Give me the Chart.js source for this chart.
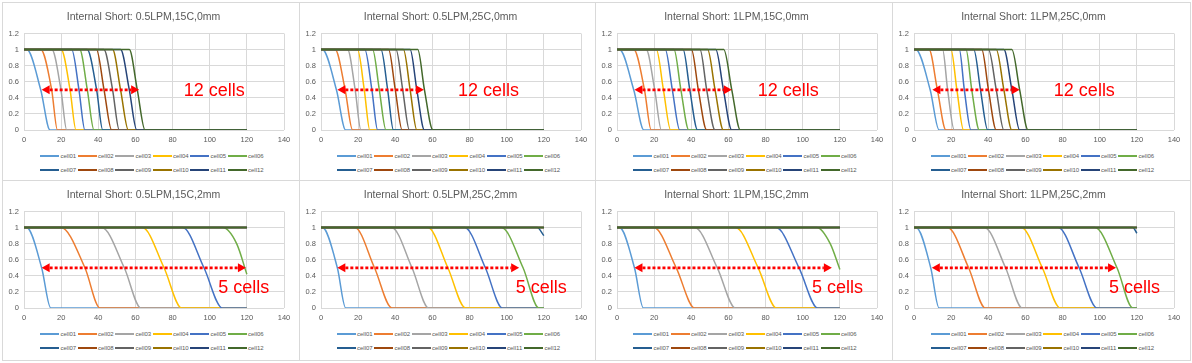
<!DOCTYPE html>
<html>
<head>
<meta charset="utf-8">
<script src="https://cdn.jsdelivr.net/npm/chart.js@4.4.1/dist/chart.umd.min.js"></script>
<style>
  html, body { margin: 0; background: #fff; }
  body { width: 1192px; height: 363px; position: relative; overflow: hidden; font-family: "Liberation Sans", Arial, sans-serif; }
  .panel { position: absolute; box-sizing: border-box; border: 1px solid #d9d9d9; background: #fff; }
  .panel canvas { position: absolute; left: 0; top: 0; }
  .legend { position: absolute; left: 0; right: 0; top: 146px; }
  .legend .row { display: flex; justify-content: center; align-items: center; height: 14px; padding-left: 3px; }
  .legend .item { width: 37.5px; flex: none; display: flex; align-items: center; overflow: visible; }
  .legend .swatch { width: 19px; height: 2px; margin-right: 1.5px; flex: none; }
  .legend .text { font-size: 6px; color: #595959; white-space: nowrap; }
</style>
</head>
<body>
<script>
const cellNames = ['cell01', 'cell02', 'cell03', 'cell04', 'cell05', 'cell06',
                   'cell07', 'cell08', 'cell09', 'cell10', 'cell11', 'cell12'];
const cellColors = ['#5B9BD5', '#ED7D31', '#A5A5A5', '#FFC000', '#4472C4', '#70AD47',
                    '#255E91', '#9E480E', '#636363', '#997300', '#264478', '#43682B'];

const panelTitles = [
    'Internal Short: 0.5LPM,15C,0mm', 'Internal Short: 0.5LPM,25C,0mm',
    'Internal Short: 1LPM,15C,0mm', 'Internal Short: 1LPM,25C,0mm',
    'Internal Short: 0.5LPM,15C,2mm', 'Internal Short: 0.5LPM,25C,2mm',
    'Internal Short: 1LPM,15C,2mm', 'Internal Short: 1LPM,25C,2mm'
];

// time range of the runs, and the levels each curve goes through
const timeFirst = 0;
const timeLast = 120;
const levelFull = 1;
const levelHalf = 0.5;
const levelEmpty = 0;

// x where each cell leaves 1, crosses 0.5 and reaches 0 (null = still at 1 at the end)
const aStart = [1.5, 9, 15, 20, 25.7, 30, 34, 39, 43, 47.7, 52, 56.7];
const aMid   = [9, 14.9, 19.9, 24.8, 29.6, 34.1, 39.1, 43.1, 47.7, 52, 56.7, 61];
const aEnd   = [14, 18, 23, 28, 32.8, 37.7, 42.4, 47.2, 51.3, 56.2, 60.7, 65.2];

const bStart = [0.7, 7.6, 14.3, 19.7, 23.6, 27.8, 32.3, 36.4, 40.4, 44.4, 48, 52.1];
const bMid   = [8.3, 13, 18.4, 23.3, 27.4, 31.4, 35.9, 40, 44, 48, 51.6, 55.7];
const bEnd   = [13.3, 17, 21.5, 26.3, 30.5, 35, 39, 43.7, 47.6, 51.6, 55.7, 60.3];

const cStart = [1.3, 9, 15.7, 21.2, 26, 30.7, 35.6, 40.1, 44.7, 48.8, 53.2, 57.5];
const cMid   = [9, 14.8, 20.3, 25, 29.8, 34.4, 39.2, 43.8, 48.3, 52.8, 57.3, 61.8];
const cEnd   = [14.5, 18.4, 23.9, 28.9, 33.8, 38.7, 43.4, 48.3, 52.8, 57.3, 61.8, 66.4];

const dStart = [0.9, 8.1, 15.4, 19.9, 24.4, 28, 32.2, 36.5, 40.1, 44.3, 48.4, 52.7];
const dMid   = [8.7, 12.6, 18.1, 23.1, 27.1, 31.1, 35.8, 40.1, 44.3, 48.4, 52.7, 56.9];
const dEnd   = [13.5, 17.2, 21.7, 26.7, 30.7, 35.2, 39.7, 44.3, 48.4, 52.7, 56.9, 61.4];

const eStart = [1.4, 19.9, 41.8, 63.7, 85.4, 107, null, null, null, null, null, null];
const eMid   = [9.5, 32.8, 54, 75.4, 96.9, null, null, null, null, null, null, null];
const eEnd   = [14.4, 40.9, 63, 84.9, 106.8, null, null, null, null, null, null, null];

const fStart = [0.7, 18.2, 38, 57.5, 77.3, 97.1, 116.4, null, null, null, null, null];
const fMid   = [8.8, 28.8, 49, 68.3, 88.5, 108.8, null, null, null, null, null, null];
const fEnd   = [13.3, 38.2, 58, 77.8, 97.7, 117.3, null, null, null, null, null, null];

const gStart = [1.3, 19.8, 41.8, 63.8, 85.6, 107.6, null, null, null, null, null, null];
const gMid   = [9.4, 31.9, 54, 76, 98, null, null, null, null, null, null, null];
const gEnd   = [14.2, 41.8, 63.8, 85.9, 108.1, null, null, null, null, null, null, null];

const hStart = [1.1, 18, 37.9, 57.7, 77.6, 97.4, 117.8, null, null, null, null, null];
const hMid   = [9, 29.4, 49.3, 69.1, 88.9, 109.3, null, null, null, null, null, null];
const hEnd   = [13.5, 38.4, 58.3, 78.7, 98.5, 117.8, null, null, null, null, null, null];

// cells still dropping when the run stops at 120: [x, y] points after they leave 1
const eTail = [[114.5, 0.8], [120, 0.42]];
const fTail = [[120, 0.9]];
const gTail = [[114.8, 0.8], [120, 0.48]];
const hTail = [[120, 0.93]];

const panelStart = [aStart, bStart, cStart, dStart, eStart, fStart, gStart, hStart];
const panelMid = [aMid, bMid, cMid, dMid, eMid, fMid, gMid, hMid];
const panelEnd = [aEnd, bEnd, cEnd, dEnd, eEnd, fEnd, gEnd, hEnd];
const panelTail = [null, null, null, null, { cell: 5, pts: eTail }, { cell: 6, pts: fTail }, { cell: 5, pts: gTail }, { cell: 6, pts: hTail }];

// red span annotations
const spanText = ['12 cells', '12 cells', '12 cells', '12 cells', '5 cells', '5 cells', '5 cells', '5 cells'];
const spanFrom = [9.5, 8.8, 9.4, 9.9, 9.5, 8.8, 9.4, 9.6];
const spanTo = [62, 55.4, 61.8, 56.9, 119.5, 106.7, 115.7, 108.8];
const spanTextX = [86, 73.8, 75.8, 75.3, 104.6, 104.9, 105, 105];
const spanTextY = [0.42, 0.42, 0.42, 0.42, 0.19, 0.19, 0.19, 0.19];

Chart.defaults.font.family = '"Liberation Sans", Arial, sans-serif';
Chart.defaults.color = '#595959';

function cellPoints(start, mid, end, tail) {
    if (start == null) return [{ x: timeFirst, y: levelFull }, { x: timeLast, y: levelFull }];
    const pts = [{ x: timeFirst, y: levelFull }, { x: start, y: levelFull }];
    if (tail) {
        tail.forEach(([x, y]) => pts.push({ x, y }));
    } else {
        pts.push({ x: mid, y: levelHalf }, { x: end, y: levelEmpty }, { x: timeLast, y: levelEmpty });
    }
    return pts;
}

const spanArrow = {
    id: 'spanArrow',
    afterDatasetsDraw(chart, args, opts) {
        const { ctx, scales: { x, y } } = chart;
        const x1 = x.getPixelForValue(opts.from);
        const x2 = x.getPixelForValue(opts.to);
        const yy = y.getPixelForValue(0.5);
        const head = 8, half = 4.5;
        ctx.save();
        ctx.strokeStyle = '#FF0000';
        ctx.fillStyle = '#FF0000';
        ctx.lineWidth = 2.7;
        ctx.setLineDash([3, 2]);
        ctx.beginPath();
        ctx.moveTo(x1 + head, yy);
        ctx.lineTo(x2 - head, yy);
        ctx.stroke();
        ctx.setLineDash([]);
        ctx.beginPath();
        ctx.moveTo(x1, yy);
        ctx.lineTo(x1 + head, yy - half);
        ctx.lineTo(x1 + head, yy + half);
        ctx.closePath();
        ctx.moveTo(x2, yy);
        ctx.lineTo(x2 - head, yy - half);
        ctx.lineTo(x2 - head, yy + half);
        ctx.closePath();
        ctx.fill();
        ctx.font = '18px "Liberation Sans", Arial, sans-serif';
        ctx.textBaseline = 'alphabetic';
        ctx.textAlign = 'left';
        ctx.fillText(opts.text, x.getPixelForValue(opts.textX), y.getPixelForValue(opts.textY));
        ctx.restore();
    }
};

// legend as html below the canvas, two rows of six like Excel
const htmlLegend = {
    id: 'htmlLegend',
    afterUpdate(chart) {
        const box = chart.canvas.parentNode.querySelector('.legend');
        box.innerHTML = '';
        const items = chart.options.plugins.legend.labels.generateLabels(chart)
            .sort((a, b) => a.datasetIndex - b.datasetIndex);
        let row = null;
        items.forEach((item, i) => {
            if (i % 6 === 0) {
                row = document.createElement('div');
                row.className = 'row';
                box.appendChild(row);
            }
            const el = document.createElement('div');
            el.className = 'item';
            const sw = document.createElement('span');
            sw.className = 'swatch';
            sw.style.background = item.strokeStyle;
            const tx = document.createElement('span');
            tx.className = 'text';
            tx.textContent = item.text;
            el.appendChild(sw);
            el.appendChild(tx);
            row.appendChild(el);
        });
    }
};

const colLeft = [2, 299, 595, 892, 1190];
const rowTop = [2, 180, 360];

panelTitles.forEach((title, p) => {
    const col = p % 4, rowIdx = Math.floor(p / 4);
    const panel = document.createElement('div');
    panel.className = 'panel';
    const w = colLeft[col + 1] - colLeft[col] + 1;
    const h = rowTop[rowIdx + 1] - rowTop[rowIdx] + 1;
    panel.style.left = colLeft[col] + 'px';
    panel.style.top = rowTop[rowIdx] + 'px';
    panel.style.width = w + 'px';
    panel.style.height = h + 'px';
    const innerW = w - 2;
    const canvas = document.createElement('canvas');
    canvas.width = innerW;
    canvas.height = 146;
    const legend = document.createElement('div');
    legend.className = 'legend';
    panel.appendChild(canvas);
    panel.appendChild(legend);
    document.body.appendChild(panel);

    const tail = panelTail[p];
    new Chart(canvas.getContext('2d'), {
        type: 'line',
        data: {
            datasets: cellNames.map((name, i) => ({
                label: name,
                data: cellPoints(panelStart[p][i], panelMid[p][i], panelEnd[p][i],
                                 tail && tail.cell === i ? tail.pts : null),
                borderColor: cellColors[i],
                backgroundColor: cellColors[i],
                borderWidth: 1.5,
                pointRadius: 0,
                fill: false,
                cubicInterpolationMode: 'monotone',
                order: cellNames.length - i
            }))
        },
        options: {
            responsive: false,
            animation: false,
            layout: { padding: { left: 0, right: innerW - 281, top: 0, bottom: 0 } },
            plugins: {
                legend: { display: false },
                tooltip: { enabled: false },
                title: {
                    display: true,
                    text: title,
                    color: '#595959',
                    font: { size: 10.5, weight: 'normal', lineHeight: 1.2 },
                    padding: { top: 7.4, bottom: 10.5 }
                },
                spanArrow: {
                    from: spanFrom[p], to: spanTo[p],
                    text: spanText[p], textX: spanTextX[p], textY: spanTextY[p]
                }
            },
            scales: {
                x: {
                    type: 'linear',
                    min: 0,
                    max: 140,
                    ticks: { stepSize: 20, color: '#595959', font: { size: 7.5 }, padding: 5, maxRotation: 0 },
                    grid: { color: '#d9d9d9', lineWidth: 1, drawTicks: false },
                    border: { display: false },
                    afterFit: s => { s.height = 19; }
                },
                y: {
                    min: 0,
                    max: 1.2,
                    ticks: {
                        stepSize: 0.2, color: '#595959', font: { size: 7.5 }, padding: 5,
                        callback: v => String(Math.round(v * 10) / 10)
                    },
                    grid: { color: '#d9d9d9', lineWidth: 1, drawTicks: false },
                    border: { display: false },
                    afterFit: s => { s.width = 21; }
                }
            }
        },
        plugins: [spanArrow, htmlLegend]
    });
});
</script>
</body>
</html>
